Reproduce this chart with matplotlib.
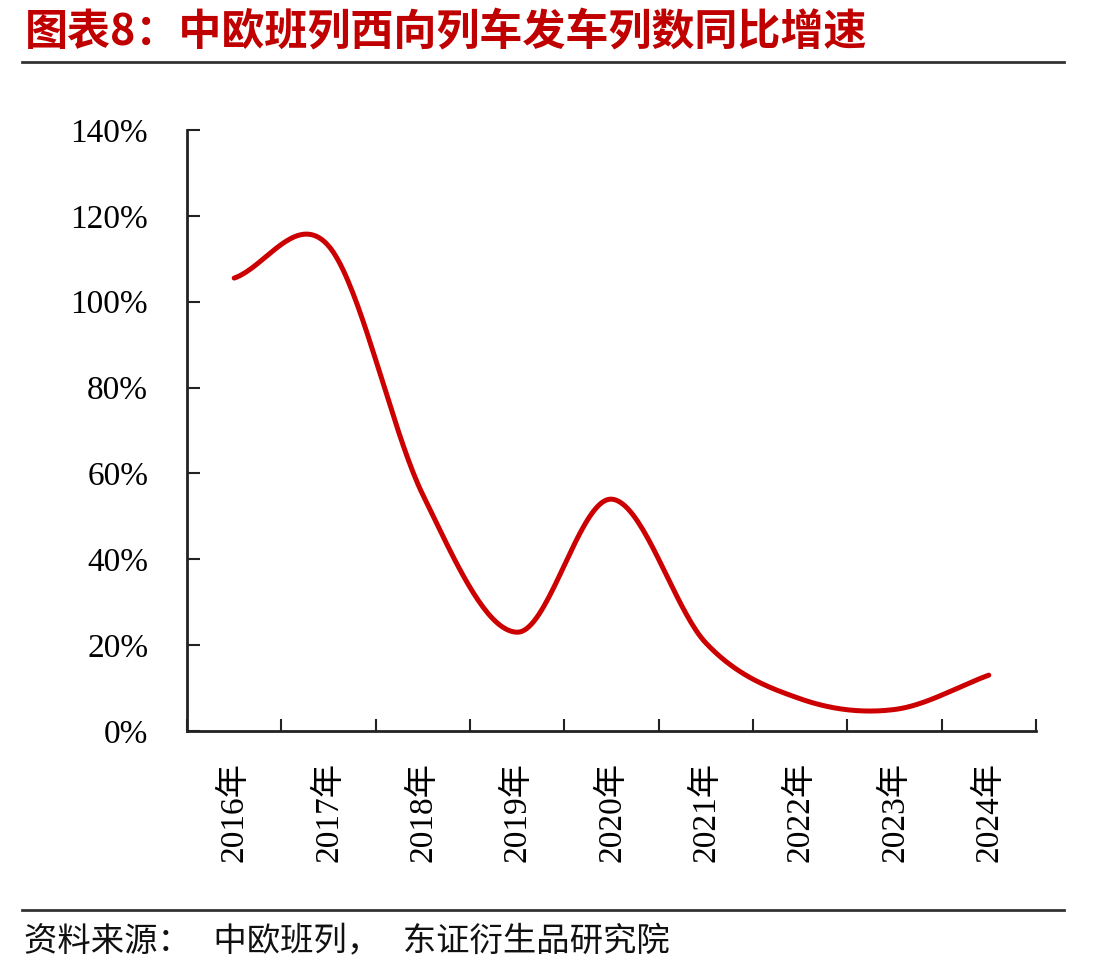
import numpy as np
import matplotlib
matplotlib.use('Agg')
from matplotlib import pyplot as plt
import matplotlib.ticker as ticker

years = ['2016年', '2017年', '2018年', '2019年', '2020年', '2021年', '2022年', '2023年', '2024年']
growth = [105.5, 113.0, 55.0, 23.0, 54.0, 20.5, 7.5, 5.0, 13.0]  # %
yticks = [0, 20, 40, 60, 80, 100, 120, 140]

serif = ['Liberation Serif', 'Noto Sans CJK SC']
cjk = ['Noto Sans CJK SC', 'DejaVu Sans']


def catmull_rom(x, y, n=40):
    # Excel 风格的平滑曲线
    x = np.asarray(x, float)
    y = np.asarray(y, float)
    px = np.concatenate([[2 * x[0] - x[1]], x, [2 * x[-1] - x[-2]]])
    py = np.concatenate([[y[0]], y, [y[-1]]])
    py[0] = y[0] - (y[1] - y[0])
    py[-1] = y[-1] + (y[-1] - y[-2])
    xs, ys = [], []
    for i in range(1, len(px) - 2):
        t = np.linspace(0, 1, n)
        h00 = 2 * t**3 - 3 * t**2 + 1
        h10 = t**3 - 2 * t**2 + t
        h01 = -2 * t**3 + 3 * t**2
        h11 = t**3 - t**2
        mx0, mx1 = (px[i + 1] - px[i - 1]) / 2, (px[i + 2] - px[i]) / 2
        my0, my1 = (py[i + 1] - py[i - 1]) / 2, (py[i + 2] - py[i]) / 2
        xs.append(h00 * px[i] + h10 * mx0 + h01 * px[i + 1] + h11 * mx1)
        ys.append(h00 * py[i] + h10 * my0 + h01 * py[i + 1] + h11 * my1)
    return np.concatenate(xs), np.concatenate(ys)


fig = plt.figure(figsize=(11.08, 9.75), dpi=100)
ax = fig.add_axes([0.1688, 0.2503, 0.9350 - 0.1688, 0.8667 - 0.2503])

pos = np.arange(len(years))
sx, sy = catmull_rom(pos, growth)
ax.plot(sx, sy, color='#cc0000', lw=3.6, solid_capstyle='round')

ax.set_xlim(-0.5, len(years) - 0.5)
ax.set_ylim(0, 140)
ax.set_yticks(yticks)
ax.set_yticklabels([f'{v}%' for v in yticks], family=serif, fontsize=24)
ax.xaxis.set_major_locator(ticker.FixedLocator(np.arange(-0.5, len(years), 1)))
ax.xaxis.set_major_formatter(ticker.NullFormatter())
ax.xaxis.set_minor_locator(ticker.FixedLocator(pos))
ax.xaxis.set_minor_formatter(ticker.FixedFormatter(years))
for lab in ax.xaxis.get_minorticklabels():
    lab.set_rotation(90)
    lab.set_family(serif)
    lab.set_fontsize(24)
ax.tick_params(axis='x', which='minor', length=0, pad=22)
ax.tick_params(axis='both', which='major', direction='in', length=9, width=1.5, color='#222222')
ax.tick_params(axis='y', pad=28)

for s in ['top', 'right']:
    ax.spines[s].set_visible(False)
for s in ['left', 'bottom']:
    ax.spines[s].set_linewidth(2)
    ax.spines[s].set_color('#222222')

# 标题与来源
fig.text(0.022, 0.968, '图表8：中欧班列西向列车发车列数同比增速', family=cjk,
         fontsize=31, fontweight='bold', color='#c00000', va='center')
fig.add_artist(plt.Line2D([0.02, 0.96], [1 - 62 / 975] * 2, color='#333333', lw=2))
fig.add_artist(plt.Line2D([0.02, 0.96], [1 - 910 / 975] * 2, color='#333333', lw=2))
fig.text(0.022, 1 - 942 / 975, '资料来源：   中欧班列，   东证衍生品研究院', family=cjk,
         fontsize=24, color='#111111', va='center')

plt.savefig('out.png', dpi=100)
